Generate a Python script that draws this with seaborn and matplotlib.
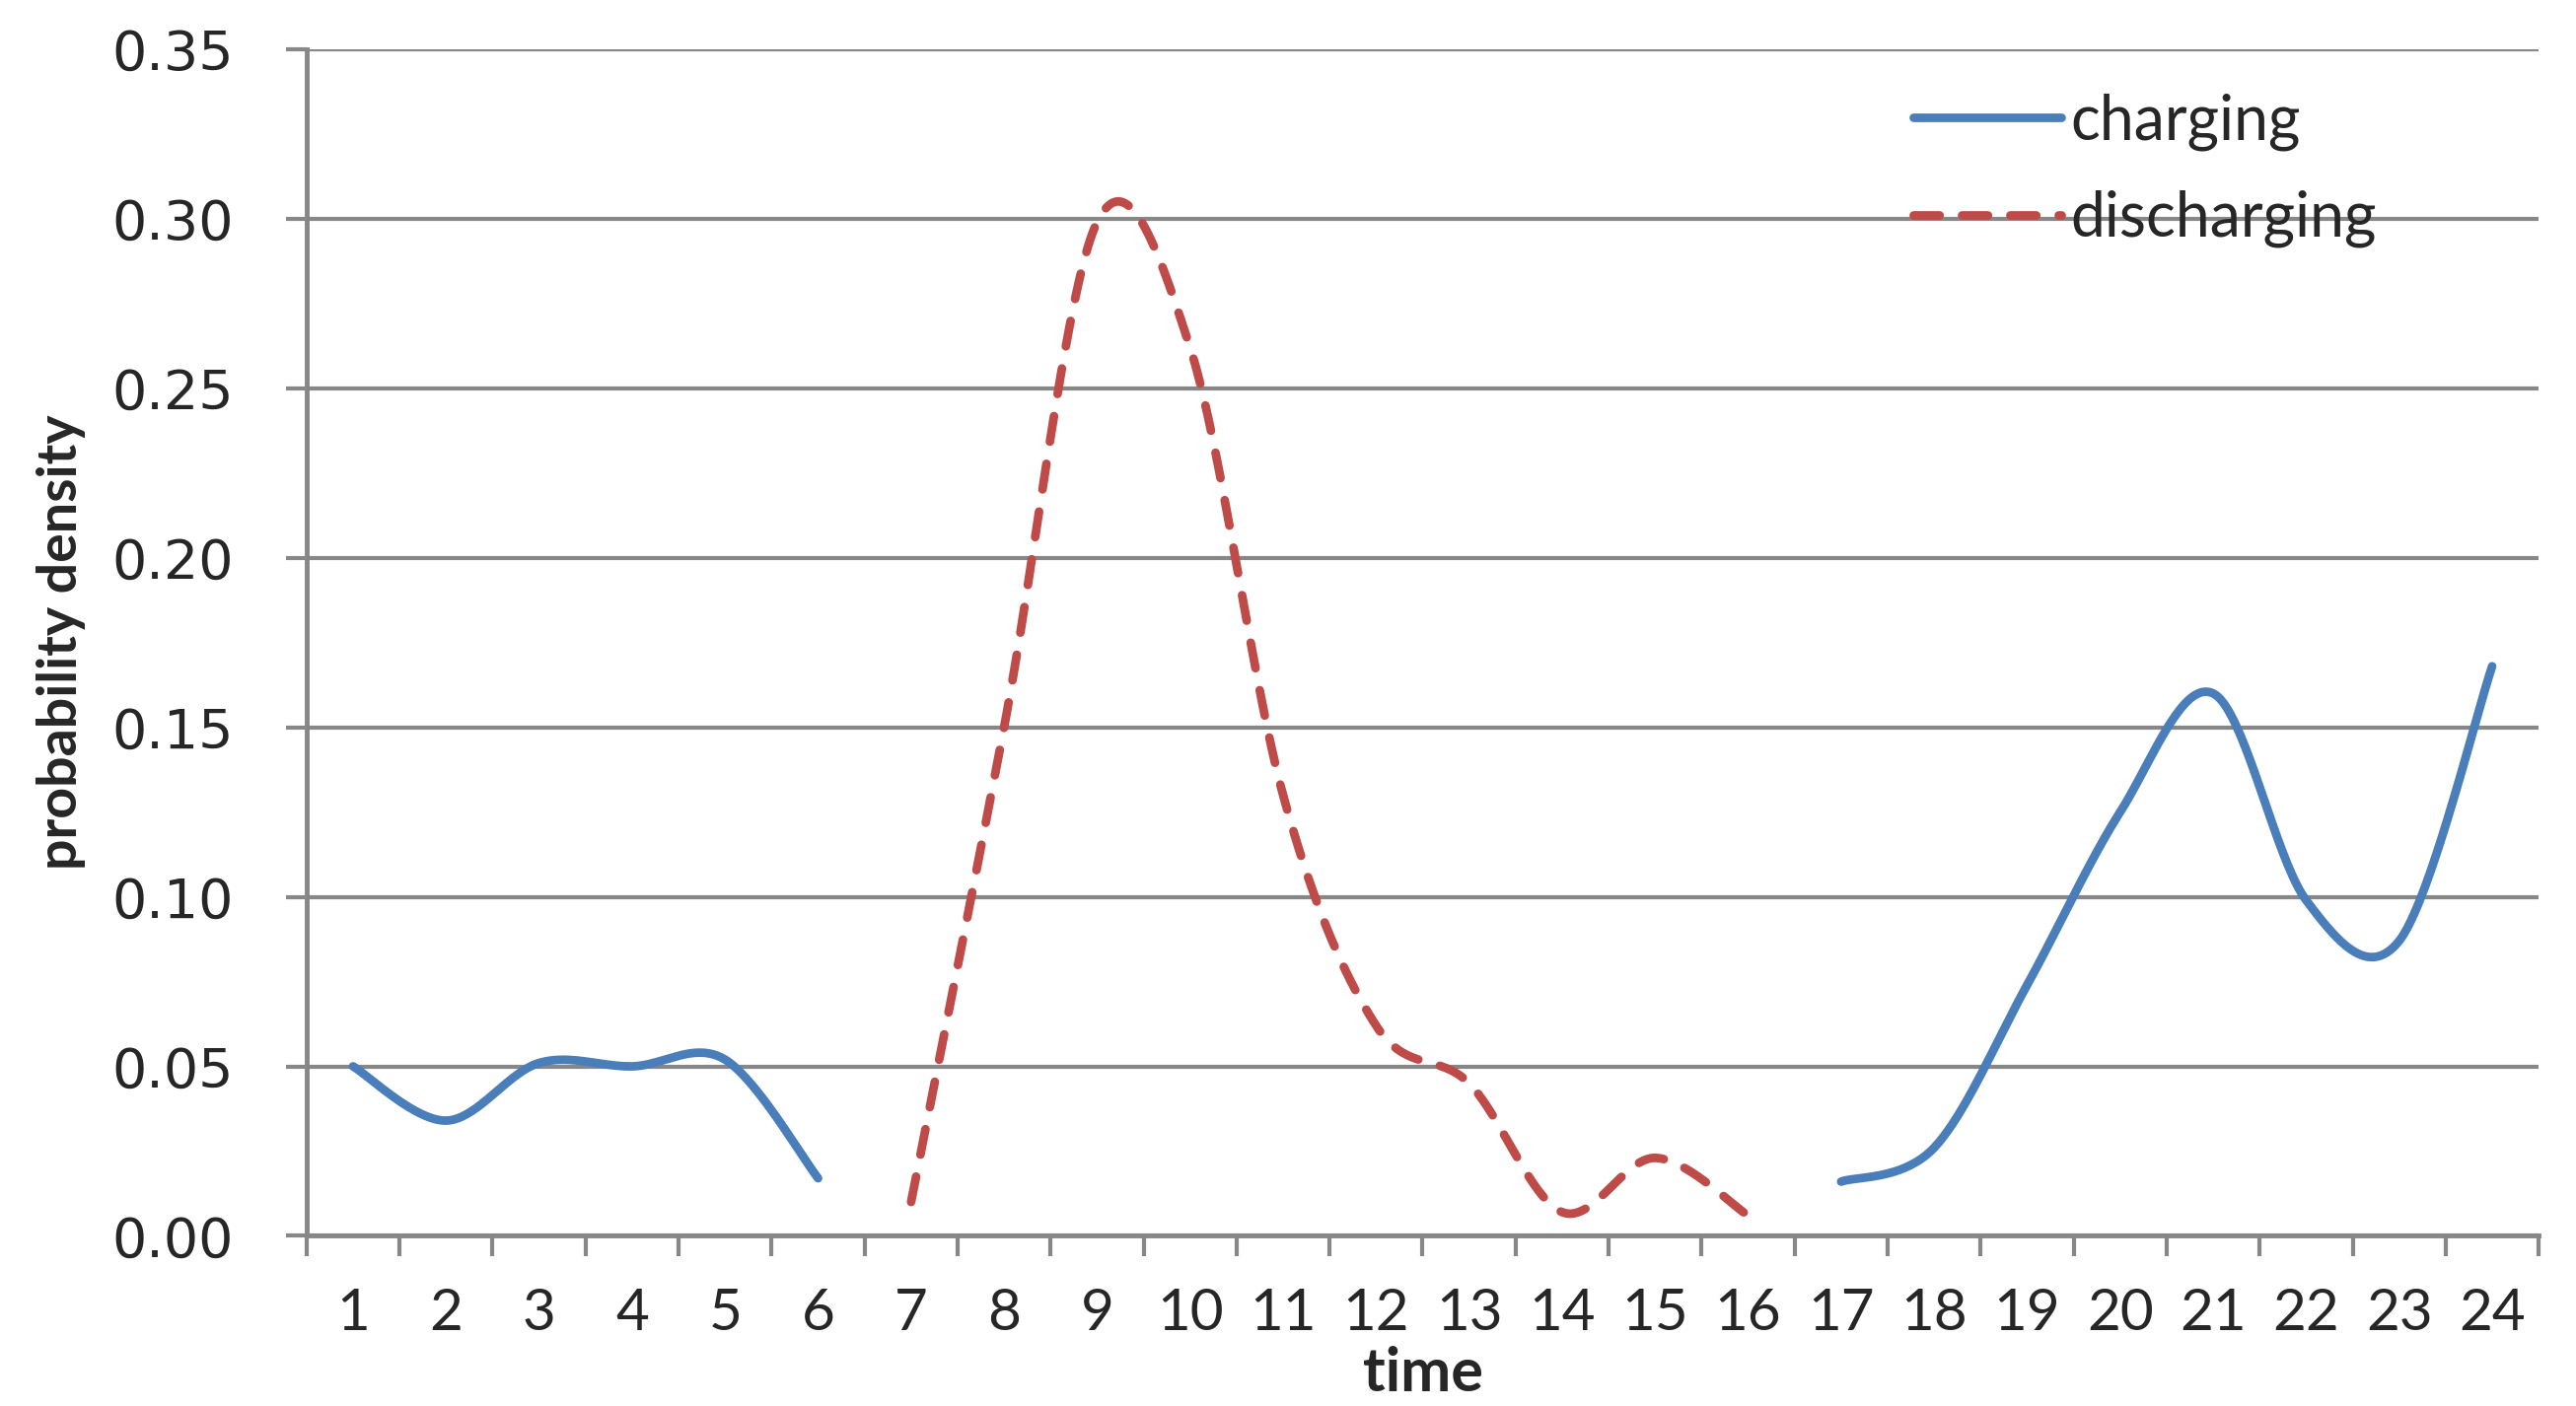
import numpy as np
import pandas as pd
import matplotlib
matplotlib.use("Agg")
import matplotlib.pyplot as plt
import seaborn as sns

# ---- data ----
hours = list(range(1, 25))
charge_am_hours = [1, 2, 3, 4, 5, 6]
charge_am_vals = [0.050, 0.034, 0.051, 0.050, 0.052, 0.017]
discharge_hours = [7, 8, 9, 10, 11, 12, 13, 14, 15, 16]
discharge_vals = [0.010, 0.150, 0.299, 0.262, 0.130, 0.062, 0.045, 0.007, 0.023, 0.006]
charge_pm_hours = [17, 18, 19, 20, 21, 22, 23, 24]
charge_pm_vals = [0.016, 0.026, 0.074, 0.125, 0.160, 0.099, 0.087, 0.168]
y_ticks = [0.00, 0.05, 0.10, 0.15, 0.20, 0.25, 0.30, 0.35]


def smooth(xs, ys, n=40):
    """Excel-style smoothed line (Catmull-Rom Bezier) through the given points."""
    xs = np.asarray(xs, float)
    ys = np.asarray(ys, float)
    P = np.column_stack([xs, ys])
    P = np.vstack([P[0], P, P[-1]])
    out = []
    for i in range(1, len(P) - 2):
        p0, p1, p2, p3 = P[i - 1], P[i], P[i + 1], P[i + 2]
        c1 = p1 + (p2 - p0) / 6.0
        c2 = p2 - (p3 - p1) / 6.0
        t = np.linspace(0, 1, n, endpoint=(i == len(P) - 3))[:, None]
        seg = ((1 - t) ** 3) * p1 + 3 * ((1 - t) ** 2) * t * c1 + 3 * (1 - t) * t ** 2 * c2 + t ** 3 * p2
        out.append(seg)
    out = np.vstack(out)
    return out[:, 0], out[:, 1]


sns.set_theme(style="white")
plt.rcParams['font.family'] = ['DejaVu Sans']

fig = plt.figure(figsize=(26.12, 14.26), dpi=100)
ax = fig.add_axes([0.119, 0.121, 0.9855 - 0.119, 0.965 - 0.121])

blue = "#4a7ebb"
red = "#be4b48"
grid_c = "#878787"

frames = []
for seg_id, (hx, hv, name) in enumerate([
        (charge_am_hours, charge_am_vals, "charging"),
        (discharge_hours, discharge_vals, "discharging"),
        (charge_pm_hours, charge_pm_vals, "charging")]):
    sx, sy = smooth(hx, hv)
    frames.append(pd.DataFrame({"time": sx, "density": sy, "series": name, "seg": seg_id}))
df = pd.concat(frames, ignore_index=True)

for seg_id, sub in df.groupby("seg"):
    name = sub["series"].iloc[0]
    if name == "charging":
        sns.lineplot(data=sub, x="time", y="density", sort=False, estimator=None, ax=ax,
                     color=blue, linewidth=6.3, solid_capstyle="round",
                     label=name if seg_id == 0 else None)
    else:
        sns.lineplot(data=sub, x="time", y="density", sort=False, estimator=None, ax=ax,
                     color=red, linewidth=6.3, dashes=False, linestyle=(0, (3.0, 2.6)),
                     dash_capstyle="round", label=name)

ax.set_xlim(0.5, 24.5)
ax.set_ylim(0, 0.35)
ax.set_yticks(y_ticks)
ax.set_yticklabels([f"{v:.2f}" for v in y_ticks], fontsize=40, family=['DejaVu Sans'])
ax.set_xticks(hours)
ax.set_xticklabels([str(h) for h in hours], fontsize=42, family=['Lato', 'DejaVu Sans'])
ax.set_xticks(np.arange(0.5, 25, 1), minor=True)
ax.tick_params(axis="x", which="both", bottom=True)
ax.tick_params(axis="y", which="both", left=True)
ax.tick_params(axis="x", which="major", length=0, pad=38)
ax.tick_params(axis="x", which="minor", length=15, width=3, color=grid_c, direction="out")
ax.tick_params(axis="y", which="major", length=15, width=3, color=grid_c, direction="out", pad=38)

ax.grid(axis="y", color=grid_c, linewidth=3)
ax.grid(axis="x", visible=False)
ax.set_axisbelow(True)
for s in ["top", "right"]:
    ax.spines[s].set_visible(False)
for s in ["left", "bottom"]:
    ax.spines[s].set_color(grid_c)
    ax.spines[s].set_linewidth(3.5)

ax.set_xlabel("time", fontsize=44, fontweight="bold", family=['Lato', 'DejaVu Sans'])
ax.xaxis.set_label_coords(0.5, -0.093)
ax.set_ylabel("probability density", fontsize=40, fontweight="bold", family=['Lato', 'DejaVu Sans'])
ax.yaxis.set_label_coords(-0.099, 0.5)

leg = ax.legend(loc="upper left", bbox_to_anchor=(0.695, 1.01), frameon=False,
                prop={"family": ['Lato', 'DejaVu Sans'], "size": 45},
                handlelength=2.4, handletextpad=0.15, labelspacing=0.64)

fig.savefig("out.png", dpi=100, facecolor="white")
